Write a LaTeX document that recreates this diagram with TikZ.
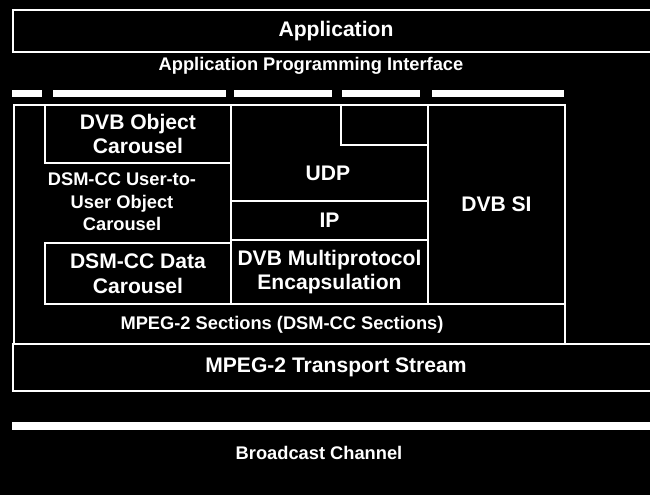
\documentclass[tikz,border=0pt]{standalone}
\usepackage{fontspec}
\setmainfont{Liberation Sans}
\usepackage{tikz}
\definecolor{ScanBlack}{HTML}{000000}
\definecolor{ScanWhite}{HTML}{FFFFFF}

\begin{document}
\begin{tikzpicture}[
  x=0.2mm, y=-0.2mm,
  layer/.style={rectangle, draw=ScanWhite, line width=1.1pt, anchor=north west,
    inner sep=0pt, font=\fontsize{12}{14}\selectfont\bfseries, text=ScanWhite, align=center},
  tag/.style={inner sep=0pt, font=\fontsize{10.4}{12.8}\selectfont\bfseries,
    text=ScanWhite, align=center},
  bigtag/.style={tag, font=\fontsize{12}{14}\selectfont\bfseries},
  bar/.style={rectangle, fill=ScanWhite, anchor=north west, inner sep=0pt,
    minimum height=1.4mm}
]

\useasboundingbox (0,0) rectangle (650,495);
\fill[ScanBlack] (0,0) rectangle (650,495);

% top of the stack
\node[layer, minimum width=129.2mm, minimum height=8.4mm] (app) at (12,9) {Application};
\node[tag] (api) at (311,66) {Application Programming Interface};

\node[bar, minimum width=6mm]    (b1) at (12,90) {};
\node[bar, minimum width=34.6mm] (b2) at (53,90) {};
\node[bar, minimum width=19.6mm] (b3) at (234,90) {};
\node[bar, minimum width=15.6mm] (b4) at (342,90) {};
\node[bar, minimum width=26.4mm] (b5) at (432,90) {};

% sections block
\node[layer, minimum width=110.2mm, minimum height=47.8mm] (sect) at (13,104) {};
\node[tag] (sectlbl) at (282,325) {MPEG-2 Sections (DSM-CC Sections)};

\node[layer, minimum width=37.2mm, minimum height=11.6mm] (objcar) at (44,104) {DVB Object\\Carousel};
\node[tag] (uu) at (122,202) {DSM-CC User-to-\\User Object\\Carousel};
\node[layer, minimum width=37.2mm, minimum height=12.2mm] (datacar) at (44,242) {DSM-CC Data\\Carousel};

\node[layer, minimum width=39.4mm, minimum height=19.2mm] (udp) at (230,104) {};
\node[layer, minimum width=17.4mm, minimum height=8mm] (udpin) at (340,104) {};
\node[bigtag] (udplbl) at (328,173) {UDP};
\node[layer, minimum width=39.4mm, minimum height=7.8mm] (ip) at (230,200) {IP};
\node[layer, minimum width=39.4mm, minimum height=12.8mm] (mpe) at (230,239) {DVB Multiprotocol\\Encapsulation};

\node[layer, minimum width=27.4mm, minimum height=39.8mm] (dvbsi) at (427,104) {DVB SI};

% transport and channel
\node[layer, minimum width=129.2mm, minimum height=9.4mm] (ts) at (12,343) {MPEG-2 Transport Stream};
\node[bar, minimum width=129.2mm, minimum height=1.6mm] (chan) at (12,422) {};
\node[tag] (chanlbl) at (319,453) {Broadcast Channel};

\end{tikzpicture}
\end{document}
